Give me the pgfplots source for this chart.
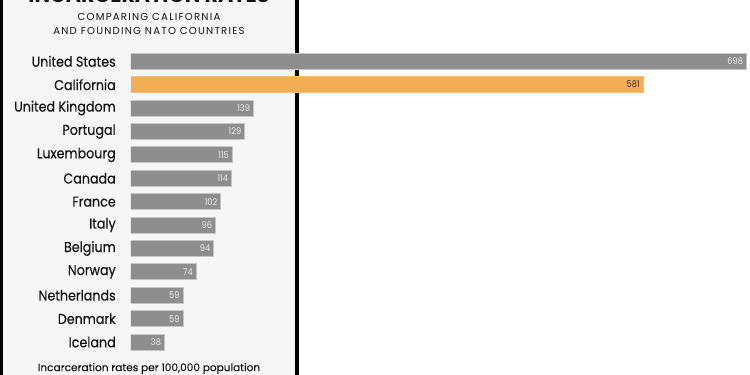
\documentclass[border=0pt]{standalone}
\usepackage{fontspec}
\setmainfont{Poppins}
\newfontfamily\labfont[FakeStretch=0.89, FakeBold=0.25]{Poppins}
\newfontfamily\footfont[FakeBold=0.2]{Poppins}
\newfontfamily\numfont[FakeStretch=0.9]{Poppins}
\newfontfamily\subfont[LetterSpace=12]{Poppins}
\usepackage{pgfplots}
\pgfplotsset{compat=1.18}
\definecolor{bargray}{HTML}{8E8E8E}
\definecolor{barorange}{HTML}{F2AD57}
\definecolor{baredge}{HTML}{C6C6C6}
\definecolor{txt}{HTML}{141414}
\definecolor{panelbg}{HTML}{F6F6F6}
\begin{document}
\begin{tikzpicture}[x=0.75pt,y=0.75pt]
\useasboundingbox (0,0) rectangle (750,375);
\begin{scope}
\clip (0,0) rectangle (750,375);
\fill[white] (0,0) rectangle (750,375);
\fill[panelbg] (0,0) rectangle (297,375);
\fill[black] (0,0) rectangle (2.5,375);
\fill[black] (295,0) rectangle (299,375);
\node[anchor=base, inner sep=0pt, text=txt, font=\bfseries\fontsize{15.5}{17}\selectfont] at (149,372.5) {INCARCERATION RATES};
\end{scope}
\node[inner sep=0pt, text=txt, font=\subfont\fontsize{7.6}{8}\selectfont] at (149,358.5) {COMPARING CALIFORNIA};
\node[inner sep=0pt, text=txt, font=\subfont\fontsize{7.6}{8}\selectfont] at (149,344) {AND FOUNDING NATO COUNTRIES};
\node[inner sep=0pt, text=txt, font=\footfont\fontsize{7.9}{8}\selectfont] at (149,6.5) {Incarceration rates per 100,000 population};
\begin{axis}[
  at={(98.25pt,15.9pt)}, anchor=south west, scale only axis,
  width=464.25pt, height=228.15pt,
  xbar, bar width=0.68, bar shift=0pt,
  xmin=0, xmax=702, ymin=-0.5, ymax=12.5, y dir=reverse,
  axis line style={draw=none}, major tick length=0pt,
  xtick=\empty,
  ytick={0,1,2,3,4,5,6,7,8,9,10,11,12},
  yticklabels={United States,California,United Kingdom,Portugal,Luxembourg,Canada,France,Italy,Belgium,Norway,Netherlands,Denmark,Iceland},
  yticklabel style={anchor=east, inner sep=0pt, xshift=-11.25pt, text=txt, font=\labfont\fontsize{10.7}{12}\selectfont},
  /pgf/number format/assume math mode=true,
  point meta=x,
  nodes near coords={\pgfmathprintnumber{\pgfplotspointmeta}},
  every node near coord/.append style={anchor=east, inner sep=0pt, xshift=-2.25pt, font=\numfont\fontsize{6.9}{8}\selectfont},
]
\addplot[fill=bargray, draw=baredge, line width=0.75pt, every node near coord/.append style={text=white!93!black}] coordinates {
(698,0) (139,2) (129,3) (115,4) (114,5) (102,6) (96,7) (94,8) (74,9) (59,10) (59,11) (38,12)};
\addplot[fill=barorange, draw=barorange!80!white, line width=0.75pt, every node near coord/.append style={text=txt!85!barorange}] coordinates {(581,1)};
\end{axis}
\end{tikzpicture}
\end{document}
